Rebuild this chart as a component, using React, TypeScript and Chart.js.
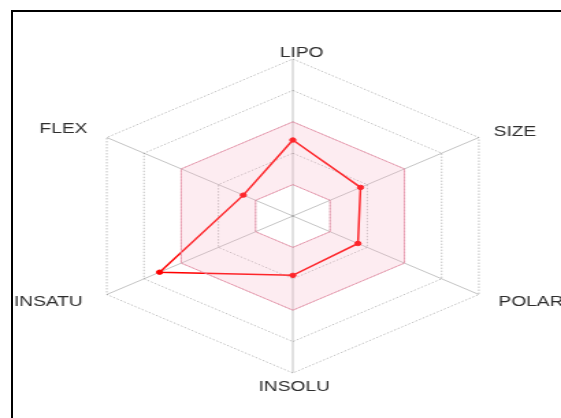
import React, { useEffect, useRef } from "react";
import { Chart, registerables } from "chart.js";

Chart.register(...registerables);

// Axes, clockwise from the top
const categories = ["LIPO", "SIZE", "POLAR", "INSOLU", "INSATU", "FLEX"];
// Molecule profile (scale 0..5)
const moleculeValues = [2.42, 1.82, 1.75, 1.89, 3.58, 1.33];
// Optimal (pink) zone limits
const optimalLower = [1, 1, 1, 1, 1, 1];
const optimalUpper = [3, 3, 3, 3, 3, 3];
// Radial rings
const ringTicks = [0, 1, 2, 3, 4, 5];

// Label offsets from each axis end (drawing units)
const LABEL_OFFSETS: [number, number][] = [
  [6.5, -7.3],
  [26.4, -6.5],
  [38.1, 6.7],
  [1, 13.3],
  [-42.7, 6.7],
  [-31.7, -9.5],
];

const labelPlugin = {
  id: "axisLabels",
  afterDraw(chart: any) {
    const scale = chart.scales.r;
    const ctx = chart.ctx;
    ctx.save();
    ctx.font = '14px "Liberation Sans", Arial, sans-serif';
    ctx.fillStyle = "#2e2e2e";
    ctx.textAlign = "center";
    ctx.textBaseline = "alphabetic";
    chart.data.labels.forEach((lab: string, i: number) => {
      const p = scale.getPointPosition(i, scale.drawingArea);
      const [dx, dy] = LABEL_OFFSETS[i];
      ctx.fillText(lab, p.x + dx, p.y + dy + 5);
    });
    ctx.restore();
  },
};

export default function App() {
  const ref = useRef<HTMLCanvasElement>(null);

  useEffect(() => {
    if (!ref.current) return;
    const pinkLine = "rgba(236,140,165,0.75)";
    const chart = new Chart(ref.current, {
      type: "radar",
      data: {
        labels: categories,
        datasets: [
          {
            data: optimalLower,
            borderColor: pinkLine,
            borderWidth: 1,
            pointRadius: 0,
            fill: false,
          },
          {
            data: optimalUpper,
            borderColor: pinkLine,
            borderWidth: 1,
            pointRadius: 0,
            backgroundColor: "rgba(247,168,190,0.22)",
            fill: "-1",
          },
          {
            data: moleculeValues,
            borderColor: "#ff0000",
            borderWidth: 1.5,
            pointRadius: 2.2,
            pointBackgroundColor: "#ff0000",
            pointBorderColor: "#ff0000",
            pointBorderWidth: 1,
            fill: false,
          },
        ],
      },
      options: {
        responsive: false,
        animation: false,
        devicePixelRatio: 1,
        layout: { padding: { left: 57, right: 39, top: 59, bottom: 45 } },
        plugins: {
          legend: { display: false },
          tooltip: { enabled: false },
          title: { display: false },
        },
        elements: { line: { tension: 0 } },
        scales: {
          r: {
            min: ringTicks[0],
            max: ringTicks[ringTicks.length - 1],
            ticks: { display: false, stepSize: 1 },
            pointLabels: { display: false },
            grid: { color: "rgba(0,0,0,0.25)", lineWidth: 1 },
            border: { dash: [1.5, 1.5] },
            angleLines: { color: "rgba(0,0,0,0.24)", lineWidth: 1 },
          },
        },
      } as any,
      plugins: [labelPlugin],
    });
    return () => chart.destroy();
  }, []);

  return (
    <div>
      <canvas
        ref={ref}
        width={410}
        height={418}
        style={{
          position: "fixed",
          left: 0,
          top: 0,
          width: "561px",
          height: "418px",
        }}
      />
      <div
        style={{
          position: "fixed",
          left: 11,
          top: 10,
          width: 700,
          height: 600,
          borderLeft: "2px solid #000",
          borderTop: "2px solid #000",
          pointerEvents: "none",
        }}
      />
    </div>
  );
}
